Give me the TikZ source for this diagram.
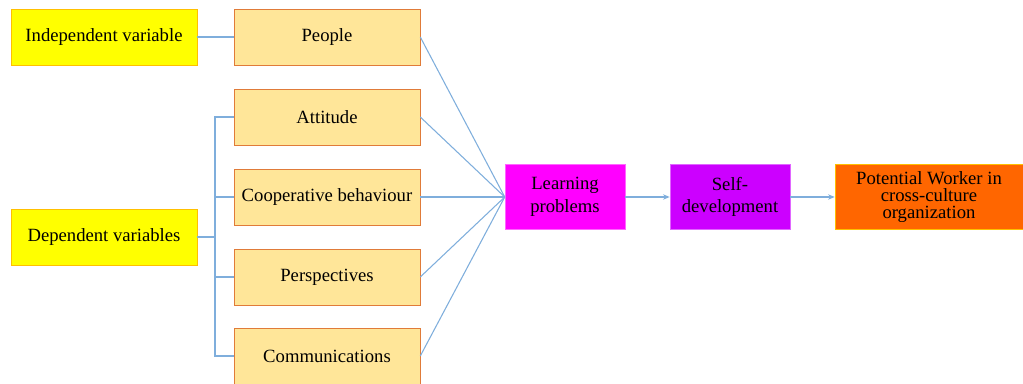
\documentclass[tikz,border=0pt]{standalone}
\usepackage{fontspec}
\setmainfont{Liberation Serif}
\usetikzlibrary{arrows.meta}
\definecolor{varyellow}{HTML}{FFFF00}
\definecolor{varedge}{HTML}{FFC000}
\definecolor{factfill}{HTML}{FFE699}
\definecolor{factedge}{HTML}{E07B39}
\definecolor{learnfill}{HTML}{FF00FF}
\definecolor{selffill}{HTML}{CC00FF}
\definecolor{workfill}{HTML}{FF6600}
\definecolor{linkblue}{HTML}{7FAEDC}
\tikzset{
  varbox/.style={draw=varedge, fill=varyellow, minimum width=139.5pt, minimum height=42pt},
  factbox/.style={draw=factedge, fill=factfill, minimum width=139.5pt, minimum height=42pt},
  resultbox/.style={minimum height=48.75pt, align=center, inner sep=1pt, font=\fontsize{14}{17}\selectfont},
  link/.style={draw=linkblue, line width=0.8pt},
  arrowlink/.style={link, -{Stealth[length=5pt,width=4pt]}}
}
\begin{document}
\begin{tikzpicture}[x=0.75pt, y=-0.75pt, font=\fontsize{14}{17}\selectfont]
  \useasboundingbox (0,0) rectangle (1023,384);
  % variables
  \node[varbox]  (indep) at (104,37)  {Independent variable};
  \node[varbox]  (dep)   at (104,237) {Dependent variables};
  % factors
  \node[factbox] (people)   at (327,37)  {People};
  \node[factbox] (attitude) at (327,117) {Attitude};
  \node[factbox] (coop)     at (327,197) {Cooperative behaviour};
  \node[factbox] (persp)    at (327,277) {Perspectives};
  \node[factbox] (comm)     at (327,356) {Communications};
  % results
  \node[resultbox, fill=learnfill, draw=learnfill!60!white, minimum width=90pt]  (learn) at (565,197) {Learning\\problems};
  \node[resultbox, fill=selffill, draw=selffill!60!white, minimum width=90pt]    (self)  at (730,197) {Self-\\development};
  \node[resultbox, fill=workfill, draw=varedge, minimum width=141pt,
        font=\fontsize{14}{13}\selectfont] (worker) at (929,197) {Potential Worker in\\cross-culture\\organization};
  \coordinate (fork) at (215,237);
  \draw[link] (indep) -- (people);
  \draw[link] (dep) -- (fork);
  \foreach \f in {attitude,coop,persp,comm}
    \draw[link] (\f.west) -| (fork);
  \foreach \f in {people,attitude,coop,persp,comm}
    \draw[link] (\f.east) -- (learn.west);
  \draw[arrowlink] (learn) -- (self);
  \draw[arrowlink] (self) -- (worker);
\end{tikzpicture}
\end{document}
